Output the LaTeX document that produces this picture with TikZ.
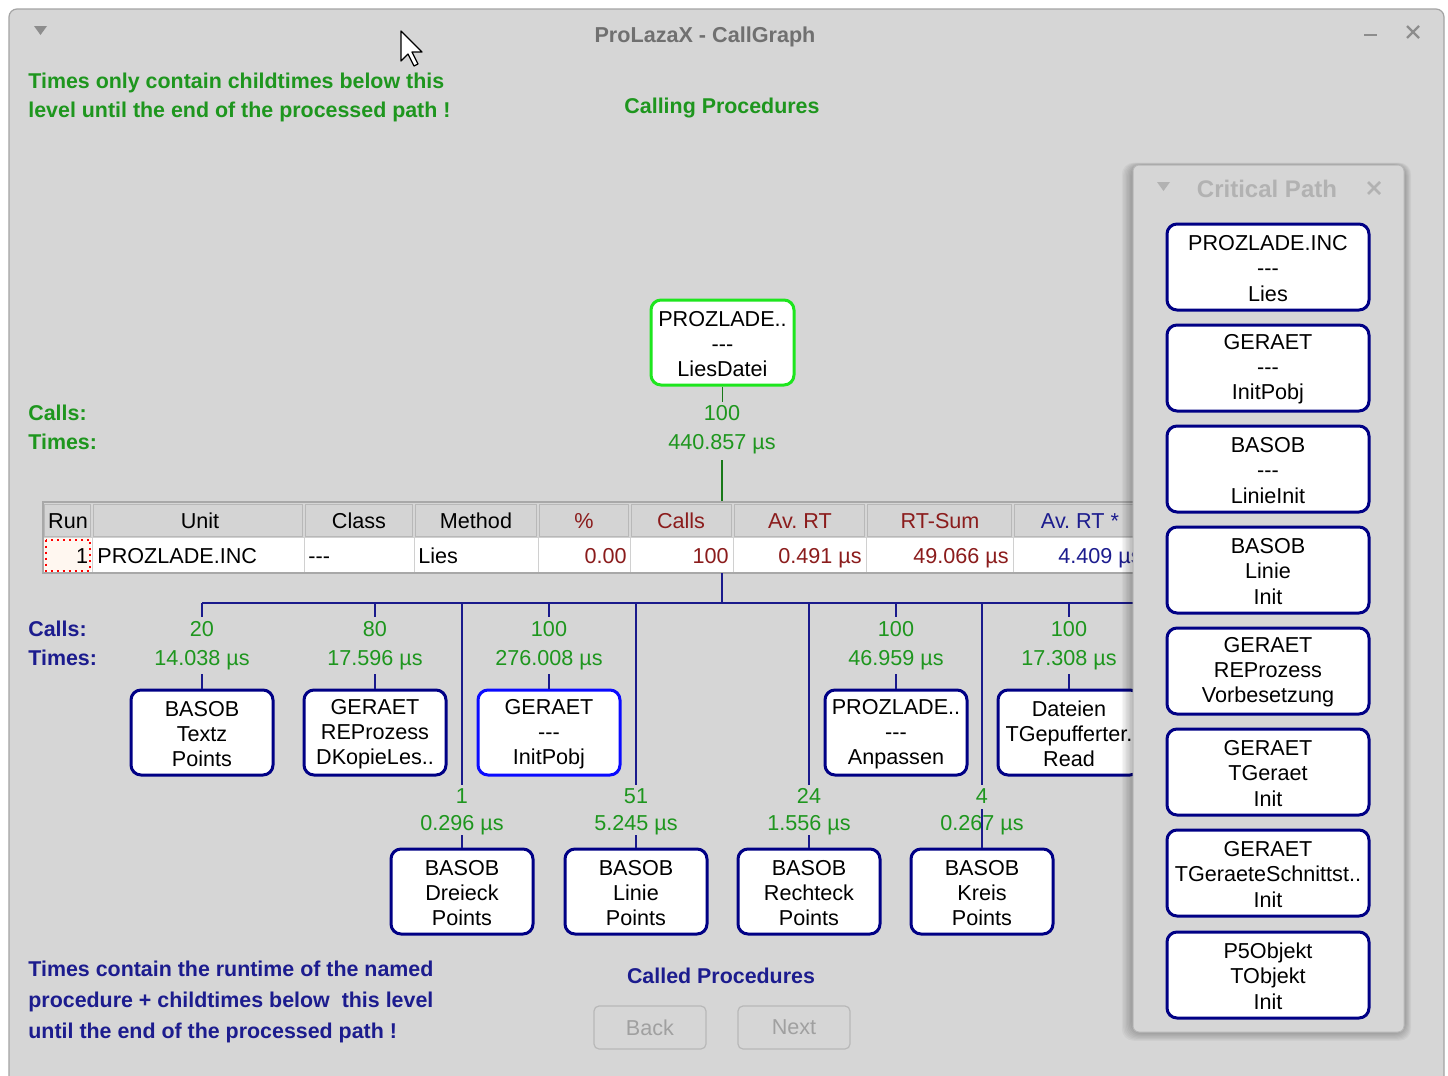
\documentclass[tikz,border=0pt]{standalone}
\usepackage{fontspec}
\setmainfont{Liberation Sans}
\usetikzlibrary{calc}
\frenchspacing
\definecolor{winbg}{HTML}{D6D6D6}
\definecolor{winedge}{HTML}{A4A4A4}
\definecolor{labgreen}{HTML}{1E961E}
\definecolor{labblue}{HTML}{1C1C8E}
\definecolor{treeblue}{HTML}{1A1A8C}
\definecolor{nodeblue}{HTML}{000085}
\definecolor{brightgreen}{HTML}{1EE61E}
\definecolor{brightblue}{HTML}{0A0AFF}
\definecolor{darkred}{HTML}{8B1C1C}
\definecolor{hdrbg}{HTML}{D4D4D4}
\definecolor{hdredge}{HTML}{B8B8B8}
\definecolor{gridc}{HTML}{D0D0D0}
\definecolor{tabedge}{HTML}{A8A8A8}
\definecolor{greytxt}{HTML}{707070}
\definecolor{paneltxt}{HTML}{B2B2B2}
\definecolor{btntxt}{HTML}{A0A0A0}
\newcommand\dsh{-\kern0pt-\kern0pt-}
\newcommand\fst{\rule{0pt}{9pt}}
\tikzset{
  txt/.style={font=\fontsize{10.8}{12.6}\selectfont, inner sep=0pt, anchor=base},
  lbl/.style={txt, text=labgreen},
  bld/.style={font=\fontsize{10.7}{12.6}\selectfont\bfseries, inner sep=0pt, anchor=base west},
  cg/.style={draw=nodeblue, line width=1.5pt, rounded corners=5pt, fill=white,
     minimum width=71pt, minimum height=42.5pt, align=center, inner sep=0pt,
     font=\fontsize{10.8}{12.6}\selectfont},
  cp/.style={cg, minimum width=101pt, minimum height=43pt},
  tree/.style={draw=treeblue, line width=1pt},
  gline/.style={draw=labgreen!80!black, line width=0.8pt},
  btn/.style={draw=hdredge, fill=winbg, rounded corners=2.5pt, line width=0.6pt,
     minimum width=56pt, minimum height=21.5pt, text=btntxt, inner sep=0pt,
     font=\fontsize{10.8}{12.6}\selectfont},
}
\begin{document}
\begin{tikzpicture}[x=0.5pt,y=-0.5pt]
\useasboundingbox (0,0) rectangle (1448,1076);
\fill[white] (0,0) rectangle (1448,1076);
% window
\filldraw[fill=winbg, draw=winedge, line width=0.6pt, rounded corners=4pt]
  (9,1100) -- (9,9) -- (1444,9) -- (1444,1100);
% title bar
\fill[greytxt!80] (34,26) -- (47,26) -- (40.5,35) -- cycle;
\node[font=\fontsize{10.8}{12.6}\selectfont\bfseries, text=greytxt, inner sep=0pt, anchor=base] (title) at (705,42) {ProLazaX - CallGraph};
\draw[greytxt!80, line width=1pt] (1364,35) -- (1377,35);
\draw[greytxt!80, line width=1.2pt] (1407,26) -- (1419,38) (1419,26) -- (1407,38);
% cursor
\filldraw[fill=white, draw=black, line width=0.6pt, line join=round]
  (401,31) -- (401,61) -- (408,54) -- (414,66) -- (418,64) -- (412,52) -- (422,52) -- cycle;

% header texts
\node[bld, text=labgreen] (h1) at (28,88) {Times only contain childtimes below this};
\node[bld, text=labgreen] (h2) at (28,117) {level until the end of the processed path !};
\node[bld, text=labgreen, anchor=base] (callingp) at (722,113) {Calling Procedures};
\node[bld, text=labgreen] (callsg) at (28,420) {Calls:};
\node[bld, text=labgreen] (timesg) at (28,449) {Times:};

% top node
\node[cg, draw=brightgreen, minimum width=71.5pt] (top) at (722.5,342.5) {\fst PROZLADE..\\\dsh\\LiesDatei};
\node[lbl] (topc) at (722,420) {100};
\node[lbl] (topt) at (722,449) {440.857 µs};
\draw[gline] (top.south) -- ++(0,15);
\draw[gline] (722,460) -- (722,502);

% table
\foreach \a/\b in {43/92,92/304,304/414,414/538,538/630,630/733,733/866,866/1013,1013/1140}{
  \filldraw[fill=hdrbg, draw=hdredge, line width=0.5pt] (\a+1.5,504) rectangle (\b-1.5,536);
  \filldraw[fill=white, draw=gridc, line width=0.5pt] (\a,537) rectangle (\b,572);
}
\fill[orange!6] (44,538) rectangle (91,571);
\draw[red, dotted, line width=1pt] (45.5,539.5) rectangle (90,570.5);
\draw[tabedge, line width=0.6pt] (43,502) rectangle (1140,573);
\node[txt] (c1) at (68,528) {Run};
\node[txt] (c2) at (200,528) {Unit};
\node[txt] (c3) at (359,528) {Class};
\node[txt] (c4) at (476,528) {Method};
\node[txt, text=darkred] (c5) at (584,528) {\%};
\node[txt, text=darkred] (c6) at (681,528) {Calls};
\node[txt, text=darkred] (c7) at (800,528) {Av. RT};
\node[txt, text=darkred] (c8) at (940,528) {RT-Sum};
\node[txt, text=labblue] (c9) at (1080,528) {Av. RT *};
\node[txt, anchor=base east] (d1) at (88.5,563) {1};
\node[txt, anchor=base west] (d2) at (97,563) {PROZLADE.INC};
\node[txt, anchor=base west] (d3) at (308,563) {\dsh};
\node[txt, anchor=base west] (d4) at (418,563) {Lies};
\node[txt, anchor=base east, text=darkred] (d5) at (627,563) {0.00};
\node[txt, anchor=base east, text=darkred] (d6) at (729,563) {100};
\node[txt, anchor=base east, text=darkred] (d7) at (862,563) {0.491 µs};
\node[txt, anchor=base east, text=darkred] (d8) at (1009,563) {49.066 µs};
\node[txt, anchor=base west, text=labblue] (d9) at (1058,563) {4.409 µs};

% tree bus
\coordinate (busc) at (722,603);
\draw[tree] (722,573) -- (busc);
\draw[tree] (202,603) -- (1140,603);

\node[bld, text=labblue] (callsb) at (28,636) {Calls:};
\node[bld, text=labblue] (timesb) at (28,665) {Times:};

% row 1
\foreach \nm/\x/\c/\t/\body/\col in {
  ra/202/20/14.038/{BASOB\\Textz\\Points}/nodeblue,
  rb/375/80/17.596/{GERAET\\REProzess\\DKopieLes..}/nodeblue,
  rc/549/100/276.008/{GERAET\\\dsh\\InitPobj}/brightblue,
  rd/896/100/46.959/{PROZLADE..\\\dsh\\Anpassen}/nodeblue,
  re/1069/100/17.308/{Dateien\\TGepufferter.\\Read}/nodeblue}{
  \node[cg, draw=\col] (\nm) at (\x,732.5) {\fst\body};
  \node[lbl] (\nm c) at (\x,636) {\c};
  \node[lbl] (\nm t) at (\x,665) {\t\ µs};
  \coordinate (\nm b) at (\x,603);
  \draw[tree] (\nm b) -- ++(0,14);
  \draw[tree] (\nm.north) -- ++(0,-15);
}
% row 2
\foreach \nm/\x/\c/\t/\body/\e in {
  sa/462/1/0.296/{BASOB\\Dreieck\\Points}/13,
  sb/636/51/5.245/{BASOB\\Linie\\Points}/13,
  sc/809/24/1.556/{BASOB\\Rechteck\\Points}/13,
  sd/982/4/0.267/{BASOB\\Kreis\\Points}/39}{
  \node[cg] (\nm) at (\x,891.5) {\fst\body};
  \node[lbl] (\nm c) at (\x,803) {\c};
  \node[lbl] (\nm t) at (\x,830) {\t\ µs};
  \coordinate (\nm b) at (\x,603);
  \draw[tree] (\nm b) -- ++(0,182);
  \draw[tree] (\nm.north) -- ++(0,-\e);
}

% bottom texts
\node[bld, text=labblue] (b1) at (28,976) {Times contain the runtime of the named};
\node[bld, text=labblue] (b2) at (28,1007) {procedure + childtimes below \ this level};
\node[bld, text=labblue] (b3) at (28,1038) {until the end of the processed path !};
\node[bld, text=labblue, anchor=base] (calledp) at (721,983) {Called Procedures};
\node[btn] (back) at (650,1027.5) {Back};
\node[btn] (next) at (794,1027.5) {Next};

% critical path panel
\foreach \i in {1,...,8}{
  \fill[black, opacity=0.035, rounded corners=6pt] (1133-\i*1.4,165-\i*0.3) rectangle (1404+\i*0.9,1032+\i*1.1);
}
\filldraw[fill=winbg, draw=hdredge, line width=0.5pt, rounded corners=3pt] (1133,165) rectangle (1404,1032);
\fill[paneltxt] (1157,182) -- (1170,182) -- (1163.5,191) -- cycle;
\node[font=\fontsize{12}{14}\selectfont\bfseries, text=paneltxt, inner sep=0pt, anchor=base] (cptitle) at (1267,197) {Critical Path};
\draw[paneltxt, line width=1.4pt] (1368,182) -- (1380,194) (1380,182) -- (1368,194);
\foreach \nm/\y/\body in {
  p1/267/{PROZLADE.INC\\\dsh\\Lies},
  p2/368/{GERAET\\\dsh\\InitPobj},
  p3/469/{BASOB\\\dsh\\LinieInit},
  p4/570/{BASOB\\Linie\\Init},
  p5/671/{GERAET\\REProzess\\Vorbesetzung},
  p6/772/{GERAET\\TGeraet\\Init},
  p7/873/{GERAET\\TGeraeteSchnittst..\\Init},
  p8/975/{P5Objekt\\TObjekt\\Init}}{
  \node[cp] (\nm) at (1268,\y) {\fst\body};
}
\end{tikzpicture}
\end{document}
